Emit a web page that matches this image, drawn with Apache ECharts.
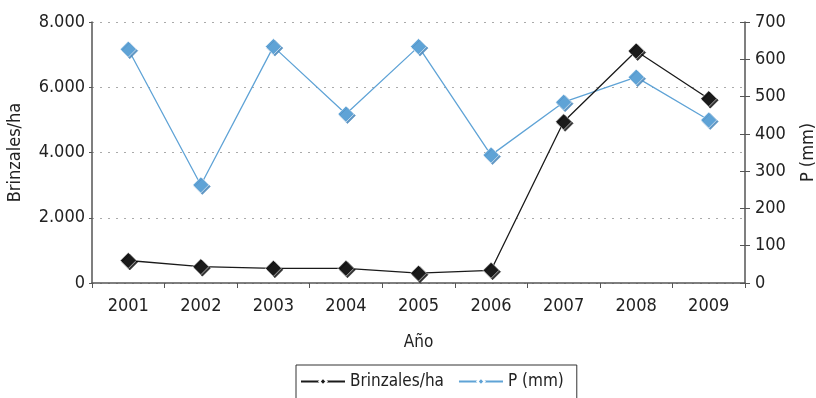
<!DOCTYPE html>
<html>
<head>
<meta charset="utf-8">
<script src="https://cdn.jsdelivr.net/npm/echarts@6/dist/echarts.min.js"></script>
<style>
  html, body { margin: 0; padding: 0; background: #fff; }
  #chart { width: 816px; height: 398px; }
</style>
</head>
<body>
<div id="chart"></div>
<script>
// Seedling density and annual precipitation, 2001–2009
const years = ['2001', '2002', '2003', '2004', '2005', '2006', '2007', '2008', '2009'];
const brinzales = [690, 500, 450, 450, 300, 390, 4940, 7110, 5650];
const precip = [627, 263, 634, 453, 634, 343, 485, 552, 437];

const FONT = '"DejaVu Sans Condensed", "Liberation Sans Narrow", Arial, sans-serif';
const TXT = '#222';
const AXIS = '#555';

function thousands(v) {
  return String(v).replace(/\B(?=(\d{3})+(?!\d))/g, '.');
}

const chart = echarts.init(document.getElementById('chart'), null, { renderer: 'canvas' });

chart.setOption({
  animation: false,
  textStyle: { fontFamily: FONT },
  grid: {
    left: 92, right: 71, top: 22, bottom: 115,
    containLabel: false,
    outerBoundsMode: 'none'
  },
  legend: {
    bottom: -8,
    left: 296,
    itemWidth: 44,
    itemHeight: 9,
    itemGap: 14,
    padding: [8, 13, 16, 4],
    borderColor: '#333',
    borderWidth: 1,
    textStyle: { fontFamily: FONT, fontSize: 17, color: TXT },
    data: ['Brinzales/ha', 'P (mm)']
  },
  xAxis: {
    type: 'category',
    data: years,
    name: 'Año',
    nameLocation: 'middle',
    nameGap: 51,
    nameTextStyle: { fontFamily: FONT, fontSize: 17, color: TXT },
    axisLine: { lineStyle: { color: AXIS, width: 1.5 } },
    axisTick: { show: true, length: 5, inside: false, lineStyle: { color: AXIS } },
    axisLabel: { fontFamily: FONT, fontSize: 18, color: TXT, margin: 14 },
    splitLine: { show: false }
  },
  yAxis: [
    {
      type: 'value',
      min: 0,
      max: 8000,
      interval: 2000,
      name: 'Brinzales/ha',
      nameLocation: 'middle',
      nameGap: 68,
      nameTextStyle: { fontFamily: FONT, fontSize: 18, color: TXT },
      axisLine: { show: true, lineStyle: { color: AXIS, width: 1.5 } },
      axisTick: { show: true, length: 3, lineStyle: { color: AXIS } },
      axisLabel: {
        fontFamily: FONT, fontSize: 18, color: TXT, margin: 7,
        formatter: thousands
      },
      splitLine: { show: true, lineStyle: { color: '#aaa', type: [2, 6], width: 1 } }
    },
    {
      type: 'value',
      min: 0,
      max: 700,
      interval: 100,
      name: 'P (mm)',
      nameLocation: 'middle',
      nameGap: 54,
      nameRotate: 90,
      nameTextStyle: { fontFamily: FONT, fontSize: 18, color: TXT },
      position: 'right',
      axisLine: { show: true, lineStyle: { color: AXIS, width: 1.5 } },
      axisTick: { show: true, length: 5, lineStyle: { color: AXIS } },
      axisLabel: { fontFamily: FONT, fontSize: 18, color: TXT, margin: 10 },
      splitLine: { show: false }
    },
    {
      // inner half of the crossing ticks on the precipitation axis
      type: 'value',
      min: 0,
      max: 700,
      interval: 100,
      position: 'right',
      axisLine: { show: false },
      axisTick: { show: true, inside: true, length: 5, lineStyle: { color: AXIS } },
      axisLabel: { show: false },
      splitLine: { show: false }
    }
  ],
  series: [
    {
      name: 'Brinzales/ha',
      type: 'line',
      yAxisIndex: 0,
      data: brinzales,
      symbol: 'diamond',
      symbolSize: 16,
      z: 3,
      lineStyle: { color: '#1a1a1a', width: 1.3 },
      itemStyle: {
        color: '#1a1a1a',
        borderColor: '#ffffff',
        borderWidth: 0.6,
        shadowColor: 'rgba(0,0,0,0.8)',
        shadowOffsetX: 1.5,
        shadowOffsetY: 1.5
      }
    },
    {
      name: 'P (mm)',
      type: 'line',
      yAxisIndex: 1,
      data: precip,
      symbol: 'diamond',
      symbolSize: 16,
      z: 2,
      lineStyle: { color: '#5fa3d6', width: 1.3 },
      itemStyle: {
        color: '#5fa3d6',
        borderColor: '#ffffff',
        borderWidth: 0.6,
        shadowColor: 'rgba(80,140,190,0.9)',
        shadowOffsetX: 1.5,
        shadowOffsetY: 1.5
      }
    }
  ]
});
</script>
</body>
</html>
